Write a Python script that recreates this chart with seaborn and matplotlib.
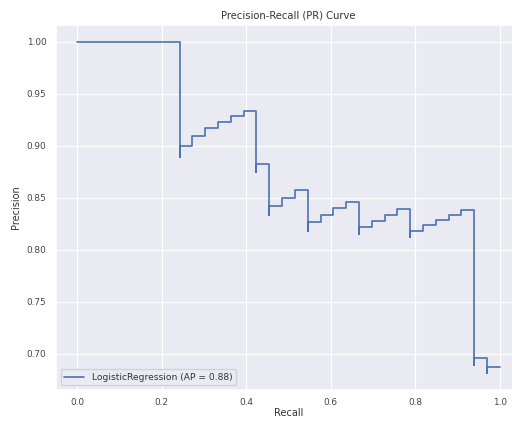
import matplotlib
matplotlib.use("Agg")
import matplotlib.pyplot as plt
import seaborn as sns
import pandas as pd

# Precision-recall points (ascending recall)
recall = [0.0, 0.0303, 0.0606, 0.0909, 0.1212, 0.1515, 0.1818, 0.2121, 0.2424,
          0.2424, 0.2727, 0.3030, 0.3333, 0.3636, 0.3939, 0.4242,
          0.4242, 0.4545, 0.4545, 0.4848, 0.5152, 0.5455,
          0.5455, 0.5758, 0.6061, 0.6364, 0.6667,
          0.6667, 0.6970, 0.7273, 0.7576, 0.7879,
          0.7879, 0.8182, 0.8485, 0.8788, 0.9091, 0.9394,
          0.9394, 0.9394, 0.9394, 0.9394, 0.9394, 0.9394, 0.9394, 0.9394,
          0.9697, 0.9697, 1.0]
precision = [1.0, 1.0, 1.0, 1.0, 1.0, 1.0, 1.0, 1.0, 1.0,
             0.8889, 0.9000, 0.9091, 0.9167, 0.9231, 0.9286, 0.9333,
             0.8750, 0.8824, 0.8333, 0.8421, 0.8500, 0.8571,
             0.8182, 0.8261, 0.8333, 0.8400, 0.8462,
             0.8148, 0.8214, 0.8276, 0.8333, 0.8387,
             0.8125, 0.8182, 0.8235, 0.8286, 0.8333, 0.8378,
             0.8158, 0.7949, 0.7750, 0.7561, 0.7381, 0.7209, 0.7045, 0.6889,
             0.6957, 0.6809, 0.6875]
curve_label = "LogisticRegression (AP = 0.88)"
title = "Precision-Recall (PR) Curve"

sns.set_theme(style="darkgrid")
plt.rcParams["font.family"] = ["DejaVu Sans"]

fig = plt.figure(figsize=(5.12, 4.21), dpi=100)
ax = fig.add_axes([56 / 512, (421 - 390) / 421, 465 / 512, 365 / 421])

df = pd.DataFrame({"Recall": recall, "Precision": precision})
sns.lineplot(data=df, x="Recall", y="Precision", sort=False, estimator=None,
             drawstyle="steps-pre", color="#4C72B0", linewidth=1.2,
             label=curve_label, ax=ax)

ax.set_xticks([0.0, 0.2, 0.4, 0.6, 0.8, 1.0])
ax.set_yticks([0.70, 0.75, 0.80, 0.85, 0.90, 0.95, 1.00])
ax.set_yticklabels(["0.70", "0.75", "0.80", "0.85", "0.90", "0.95", "1.00"])
ax.tick_params(axis="both", labelsize=6.4, length=0, colors="#444444")
ax.tick_params(axis="x", pad=5.5)
ax.tick_params(axis="y", pad=7)
ax.grid(True, color="white", linewidth=0.9)

ax.set_xlabel("Recall", fontsize=7, labelpad=1, color="#333333")
ax.set_ylabel("Precision", fontsize=7, labelpad=4, color="#333333")
ax.set_title(title, fontsize=7.2, pad=5, color="#333333")

leg = ax.legend(loc="lower left", fontsize=6.6, handlelength=2.2)
for t in leg.get_texts():
    t.set_color("#333333")

fig.savefig("out.png", dpi=100)
